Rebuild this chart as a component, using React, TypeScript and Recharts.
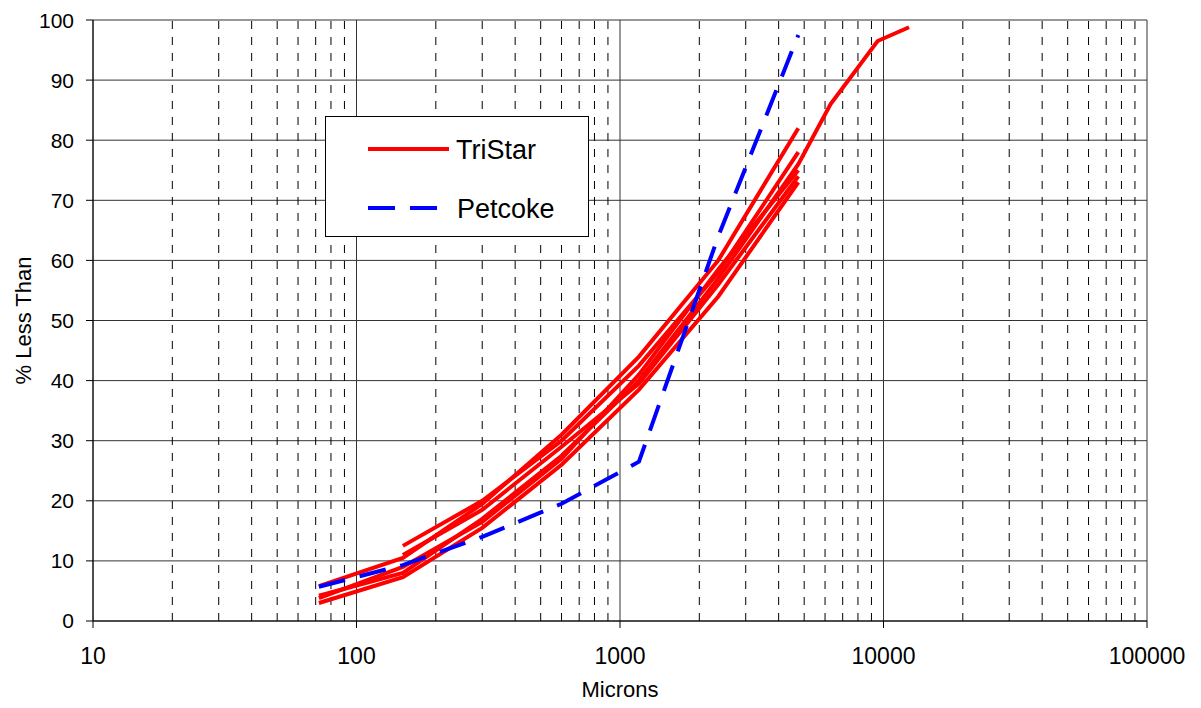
import React from 'react';
import { LineChart, Line, XAxis, YAxis, CartesianGrid, ReferenceLine, Label } from 'recharts';

// sieve openings in microns
const sieveSizes = [72, 150, 300, 600, 1180, 2360, 4750, 6300, 9500, 12500];

// cumulative % passing for each TriStar sample (null = not measured)
const triStarA = [4.2, 8.0, 17.0, 27.5, 40.0, 57.0, 76.0, 86.0, 96.5, 98.8];
const triStarB = [5.8, 10.5, 19.5, 31.0, 44.0, 60.0, 82.0, null, null, null];
const triStarC = [null, 12.5, 20.0, 30.0, 42.5, 58.0, 78.0, null, null, null];
const triStarD = [3.0, 7.3, 15.5, 26.0, 38.5, 54.0, 73.0, null, null, null];
const triStarE = [3.8, 9.0, 16.5, 27.0, 41.0, 58.5, 75.0, null, null, null];
const triStarF = [null, 11.0, 18.5, 29.0, 39.5, 56.0, 74.0, null, null, null];

const petcoke = [5.7, 9.3, 14.0, 19.5, 26.5, 64.0, 97.5, null, null, null];

const xTicks = [10, 100, 1000, 10000, 100000];
const yTicks = [0, 10, 20, 30, 40, 50, 60, 70, 80, 90, 100];
const minorX = [10, 100, 1000, 10000].flatMap((d) => [2, 3, 4, 5, 6, 7, 8, 9].map((m) => m * d));

const toPoints = (vals: (number | null)[]) =>
  sieveSizes
    .map((x, i) => ({ x, y: vals[i] }))
    .filter((p) => p.y !== null);

const triStarRuns = [triStarA, triStarB, triStarC, triStarD, triStarE, triStarF].map(toPoints);
const petcokePoints = toPoints(petcoke);

const font = '"Liberation Sans", Arial, sans-serif';

function LegendBox() {
  return (
    <div
      style={{
        position: 'absolute',
        left: 317,
        top: 108,
        width: 262,
        height: 119,
        border: '1px solid #000',
        background: '#fff',
      }}
    >
      <svg width={262} height={119} style={{ display: 'block' }}>
        <line x1={42} y1={32} x2={123} y2={32} stroke="#ff0000" strokeWidth={4} />
        <line x1={42} y1={91} x2={123} y2={91} stroke="#0000ff" strokeWidth={4} strokeDasharray="27 15" />
        <text x={130} y={42} fontSize={27} fontFamily={font}>TriStar</text>
        <text x={131} y={101} fontSize={27} fontFamily={font}>Petcoke</text>
      </svg>
    </div>
  );
}

export default function App() {
  return (
    <div style={{ position: 'relative', width: 1185, height: 700 }}>
      <LineChart
        width={1185}
        height={700}
        margin={{ top: 12, right: 46, left: 25, bottom: 28 }}
        style={{ fontFamily: font }}
      >
        <CartesianGrid horizontal vertical stroke="#333" strokeWidth={1} />
        {minorX.map((v) => (
          <ReferenceLine key={v} x={v} stroke="#000" strokeWidth={1} strokeDasharray="8 8" />
        ))}
        <XAxis
          dataKey="x"
          type="number"
          scale="log"
          domain={[10, 100000]}
          ticks={xTicks}
          allowDataOverflow
          stroke="#000"
          tickSize={7}
          tickMargin={20}
          height={59}
          tick={{ fill: '#000', fontSize: 23 }}
        >
          <Label value="Microns" position="insideBottom" offset={-17} fill="#000" fontSize={22} />
        </XAxis>
        <YAxis
          type="number"
          domain={[0, 100]}
          ticks={yTicks}
          stroke="#000"
          tickSize={7}
          tickMargin={12}
          width={60}
          tick={{ fill: '#000', fontSize: 21 }}
        >
          <Label value="% Less Than" angle={-90} position="insideLeft" offset={-10} fill="#000" fontSize={22} style={{ textAnchor: 'middle' }} />
        </YAxis>
        {triStarRuns.map((pts, i) => (
          <Line
            key={i}
            data={pts}
            dataKey="y"
            stroke="#ff0000"
            strokeWidth={4}
            dot={false}
            isAnimationActive={false}
          />
        ))}
        <Line
          data={petcokePoints}
          dataKey="y"
          stroke="#0000ff"
          strokeWidth={4}
          strokeDasharray="27 15"
          dot={false}
          isAnimationActive={false}
        />
      </LineChart>
      <LegendBox />
    </div>
  );
}
